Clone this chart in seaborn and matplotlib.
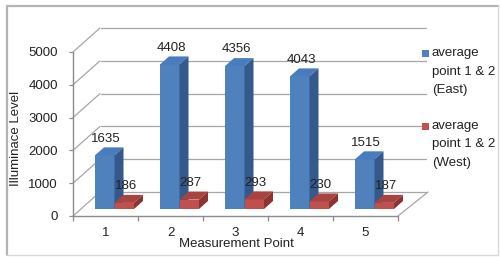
import matplotlib
matplotlib.use("Agg")
import matplotlib.pyplot as plt
import matplotlib.transforms as mtransforms
from matplotlib.patches import Polygon, Rectangle
import seaborn as sns
import pandas as pd

# ---- data ----
points = ["1", "2", "3", "4", "5"]
east = [1635, 4408, 4356, 4043, 1515]
west = [186, 287, 293, 230, 187]
series_names = ["average\npoint 1 & 2\n(East)", "average\npoint 1 & 2\n(West)"]
y_ticks = [0, 1000, 2000, 3000, 4000, 5000]
x_label = "Measurement Point"
y_label = "Illuminace Level"

front_colors = ["#4F81BD", "#C0504D"]
top_colors = ["#4A7BBE", "#A8433F"]
side_colors = ["#34598A", "#8C3431"]

sns.set_style("white")
plt.rcParams["font.family"] = ["Liberation Sans", "DejaVu Sans"]
FS = 9.5
TXT = "#222222"

W, H = 500, 257
fig = plt.figure(figsize=(W / 100, H / 100), dpi=100)

def fx(px):
    return px / W

def fy(py):
    return 1 - py / H

# front plane of the plot box
L, R, T, B = 73, 398, 52, 216
ax = fig.add_axes([fx(L), fy(B), fx(R - L), fy(T) - fy(B)])

df = pd.DataFrame({
    "point": points * 2,
    "value": east + west,
    "series": [series_names[0]] * len(points) + [series_names[1]] * len(points),
})

sns.barplot(data=df, x="point", y="value", hue="series", palette=front_colors,
            width=0.6, gap=0, dodge=True, legend=False, ax=ax,
            edgecolor="none", linewidth=0, saturation=1, zorder=5)

ax.set_xlim(-0.5, 4.5)
ax.set_ylim(0, 5000)
for s in ax.spines.values():
    s.set_visible(False)
ax.set_facecolor("none")
ax.set_xlabel("")
ax.set_ylabel("")

dpi_t = fig.dpi_scale_trans

def off(dx, dy):
    return ax.transData + mtransforms.ScaledTranslation(dx / 100, dy / 100, dpi_t)

GRID = "#A6A6A6"
# back wall gridlines and left wall diagonals
back = off(28, 24)
for v in y_ticks:
    ax.plot([-0.5, 4.5], [v, v], color=GRID, lw=0.9, transform=back, clip_on=False, zorder=1)
    x0, y0 = ax.transData.transform((-0.5, v))
    ax.plot([x0, x0 + 27], [y0, y0 + 24], color=GRID, lw=0.9,
            transform=None, clip_on=False, zorder=1)
# floor right diagonal
x0, y0 = ax.transData.transform((4.5, 0))
ax.plot([x0, x0 + 30], [y0, y0 + 24], color=GRID, lw=0.9, transform=None, clip_on=False, zorder=1)

# front axes lines
AX = "#8C8C8C"
ax.plot([-0.5, -0.5], [0, 5000], color=AX, lw=1.0, clip_on=False, zorder=2)
ax.plot([-0.5, 4.5], [0, 0], color=AX, lw=1.0, clip_on=False, zorder=2)

# ticks
ax.set_yticks(y_ticks)
ax.set_yticklabels([str(v) for v in y_ticks], fontsize=FS, color=TXT)
ax.tick_params(axis="y", length=3, width=0.9, color=AX, pad=8, left=True)
ax.set_xticks(range(len(points)))
ax.set_xticklabels(points, fontsize=FS, color=TXT)
ax.tick_params(axis="x", length=0, pad=8)
ax.set_xticks([i - 0.5 for i in range(len(points) + 1)], minor=True)
ax.tick_params(axis="x", which="minor", length=3.5, width=0.9, color=AX, bottom=True)

# 3D bar faces
BDX, BDY = 9, 7          # bar plane offset (px)
DDX, DDY = 9, 8          # bar depth (px)
ddx = DDX / 65.0
ddy = DDY * 5000 / 164.0
bar_t = off(BDX, BDY)

patches = [p for p in ax.patches if isinstance(p, Rectangle)]
n = len(points)
order = []
for i in range(n):
    order.append((patches[i], 0))
    order.append((patches[n + i], 1))
z = 5
for p, k in order:
    x, w, h = p.get_x(), p.get_width(), p.get_height()
    p.set_transform(bar_t)
    p.set_clip_on(False)
    p.set_zorder(z)
    top = Polygon([(x, h), (x + w, h), (x + w + ddx, h + ddy), (x + ddx, h + ddy)],
                  closed=True, facecolor=top_colors[k], edgecolor="none",
                  transform=bar_t, clip_on=False, zorder=z + 0.1)
    side = Polygon([(x + w, 0), (x + w, h), (x + w + ddx, h + ddy), (x + w + ddx, ddy)],
                   closed=True, facecolor=side_colors[k], edgecolor="none",
                   transform=bar_t, clip_on=False, zorder=z + 0.1)
    ax.add_patch(top)
    ax.add_patch(side)
    ax.annotate(f"{int(round(h))}", xy=(x + w / 2, h), xycoords=bar_t,
                xytext=(1, 12), textcoords="offset points", ha="center", va="center",
                fontsize=FS, color=TXT, zorder=z + 0.2, annotation_clip=False)
    z += 1

# axis titles
fig.text(fx(236), fy(244), x_label, ha="center", va="center", fontsize=FS, color=TXT)
fig.text(fx(16), fy(138), y_label, ha="center", va="center", rotation=90, fontsize=FS, color=TXT)

# legend
leg_y = [53, 126]
for k in range(2):
    fig.patches.append(Rectangle((fx(422), fy(leg_y[k] + 3.5)), fx(6.5), fy(0) - fy(7),
                                 transform=fig.transFigure, facecolor=front_colors[k],
                                 edgecolor="none"))
    for j, line in enumerate(series_names[k].split("\n")):
        fig.text(fx(432), fy(leg_y[k] + j * 18.5), line, ha="left", va="center",
                 fontsize=FS, color=TXT)

# outer border
BC = "#B4B4B4"
fig.add_artist(plt.Line2D([fx(7), fx(498)], [fy(5.5), fy(5.5)], color=BC, lw=1.6,
                          transform=fig.transFigure))
fig.add_artist(plt.Line2D([fx(7), fx(7)], [fy(5.5), fy(255)], color=BC, lw=1.6,
                          transform=fig.transFigure))
fig.add_artist(plt.Line2D([fx(7), fx(498)], [fy(255), fy(255)], color="#D8D8D8", lw=1.0,
                          transform=fig.transFigure))
fig.add_artist(plt.Line2D([fx(498), fx(498)], [fy(5.5), fy(255)], color="#D8D8D8", lw=1.0,
                          transform=fig.transFigure))

fig.savefig("out.png", dpi=100)
